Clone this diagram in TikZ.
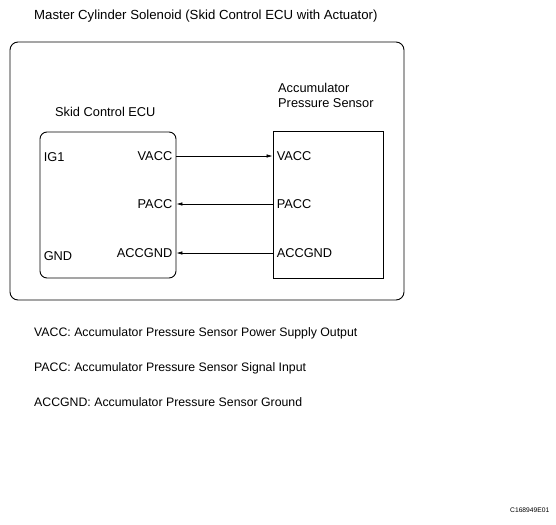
\documentclass[tikz,border=0pt]{standalone}
\usepackage{fontspec}
\setmainfont{Liberation Sans}
\usetikzlibrary{arrows.meta,positioning}
\tikzset{
    x=1pt,y=-1pt,semithick,
    box/.style ={draw, line width=0.9pt, inner sep=0pt},
    pinl/.style = {font=\fontsize{12.8}{15}\selectfont, inner sep=4pt},
    txt/.style = {font=\fontsize{12.8}{15}\selectfont, inner sep=0pt, anchor=west},
    sig/.style={-{Latex[length=6pt,width=3.5pt]}, line width=0.6pt}
}
\begin{document}
\begin{tikzpicture}
            \useasboundingbox (0,0) rectangle (556,524);
            \node[txt,font=\fontsize{13.2}{15}\selectfont] (title) at (34,16) {Master Cylinder Solenoid (Skid Control ECU with Actuator)};
            % Outer unit and the two parts
            \node[box,rounded corners=8pt,minimum width=394,minimum height=258] (unit) at (207,171) {};
            \node[box,rounded corners=7pt,minimum width=136,minimum height=146] (ecu) at (108,205) {};
            \node[box,minimum width=110,minimum height=147] (sensor) at (328,204.5) {};
            \node[txt] (ecuname) at (55,112) {Skid Control ECU};
            \node[txt,align=left] (sensorname) at (278,95) {Accumulator\\Pressure Sensor};
            % Terminals
            \node[pinl,anchor=west] (ig1) at (ecu.west |- 0,157) {IG1};
            \node[pinl,anchor=west] (gnd) at (ecu.west |- 0,256) {GND};
            \node[pinl,anchor=east] (evacc) at (ecu.east |- 0,156) {VACC};
            \node[pinl,anchor=east] (epacc) at (ecu.east |- 0,204) {PACC};
            \node[pinl,anchor=east] (egnd) at (ecu.east |- 0,253) {ACCGND};
            \node[pinl,anchor=west] (svacc) at (sensor.west |- 0,156) {VACC};
            \node[pinl,anchor=west] (spacc) at (sensor.west |- 0,204) {PACC};
            \node[pinl,anchor=west] (sgnd) at (sensor.west |- 0,253) {ACCGND};
            % Signal lines
            \draw[sig] (evacc.east) -- (svacc.west);
            \draw[sig] (spacc.west) -- (epacc.east);
            \draw[sig] (sgnd.west) -- (egnd.east);
            % Legend
            \node[txt,font=\fontsize{12.3}{15}\selectfont] (leg1) at (34,333) {VACC: Accumulator Pressure Sensor Power Supply Output};
            \node[txt,font=\fontsize{12.3}{15}\selectfont] (leg2) at (34,368) {PACC: Accumulator Pressure Sensor Signal Input};
            \node[txt,font=\fontsize{12.3}{15}\selectfont] (leg3) at (34,402) {ACCGND: Accumulator Pressure Sensor Ground};
            \node[txt,font=\fontsize{6.7}{8}\selectfont] (code) at (510,510) {C168949E01};
\end{tikzpicture}
\end{document}
